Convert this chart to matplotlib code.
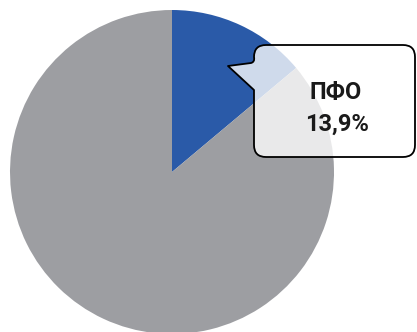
import matplotlib.pyplot as plt
from matplotlib.path import Path
from matplotlib.patches import PathPatch

# share of the region vs the rest
labels = ['ПФО', 'Остальные']
shares = [13.9, 86.1]
colors = ['#2a5aa8', '#9d9ea2']

W, H = 417, 332
fig = plt.figure(figsize=(W / 100, H / 100), dpi=100)
ax = fig.add_axes([0, 0, 1, 1])

ax.pie(shares, colors=colors, startangle=90, counterclock=False,
       center=(172, H - 172), radius=162, frame=True,
       wedgeprops={'linewidth': 0})
ax.set_xlim(0, W)
ax.set_ylim(0, H)
ax.set_aspect('equal')
ax.axis('off')


def py(y):
    return H - y


# callout bubble: rounded box with a notch pointing at the wedge
x0, x1, y0, y1, r = 254, 415, 45, 157, 12
verts = [
    (x0 + r, py(y0)),
    (x1 - r, py(y0)),
    (x1, py(y0)), (x1, py(y0 + r)),
    (x1, py(y1 - r)),
    (x1, py(y1)), (x1 - r, py(y1)),
    (x0 + r, py(y1)),
    (x0, py(y1)), (x0, py(y1 - r)),
    (x0, py(90)),
    (228, py(66)),
    (251, py(63)),
    (255, py(62)), (x0, py(y0 + r)),
    (x0, py(y0)), (x0 + r, py(y0)),
    (x0 + r, py(y0)),
]
codes = [
    Path.MOVETO,
    Path.LINETO,
    Path.CURVE3, Path.CURVE3,
    Path.LINETO,
    Path.CURVE3, Path.CURVE3,
    Path.LINETO,
    Path.CURVE3, Path.CURVE3,
    Path.LINETO,
    Path.LINETO,
    Path.LINETO,
    Path.CURVE3, Path.CURVE3,
    Path.CURVE3, Path.CURVE3,
    Path.CLOSEPOLY,
]
bubble = PathPatch(Path(verts, codes), facecolor=(1, 1, 1, 0.78),
                   edgecolor='black', linewidth=1.3, joinstyle='round')
ax.add_patch(bubble)

ax.text(336, py(92), labels[0], ha='center', va='center',
        fontsize=17, fontweight='bold', family=['Roboto', 'DejaVu Sans'],
        color='#1a1a1a')
ax.text(337, py(124), f'{shares[0]:.1f}%'.replace('.', ','), ha='center',
        va='center', fontsize=17, fontweight='bold',
        family=['Roboto', 'DejaVu Sans'], color='#1a1a1a')

fig.savefig('out.png', dpi=100)
